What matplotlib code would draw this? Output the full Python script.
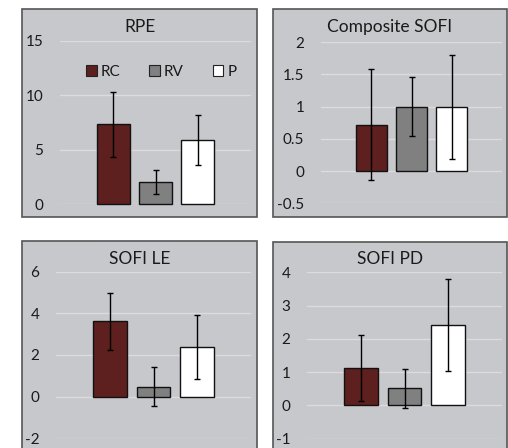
import matplotlib.pyplot as plt
from matplotlib.patches import Rectangle, Patch
import numpy as np

plt.rcParams['font.family'] = ['Lato', 'DejaVu Sans']

groups = ["RC", "RV", "P"]
colors = ["#5e1f1f", "#808080", "#ffffff"]

titles = ["RPE", "Composite SOFI", "SOFI LE", "SOFI PD"]
means = [
    [7.35, 2.0, 5.9],
    [0.72, 1.0, 1.0],
    [3.62, 0.48, 2.39],
    [1.13, 0.51, 2.41],
]
errs = [
    [3.0, 1.1, 2.3],
    [0.86, 0.46, 0.81],
    [1.38, 0.92, 1.54],
    [1.0, 0.59, 1.38],
]
yticks = [
    [0, 5, 10, 15],
    [-0.5, 0, 0.5, 1, 1.5, 2],
    [-2, 0, 2, 4, 6],
    [-1, 0, 1, 2, 3, 4],
]
ytlabels = [
    ["0", "5", "10", "15"],
    ["-0.5", "0", "0.5", "1", "1.5", "2"],
    ["-2", "0", "2", "4", "6"],
    ["-1", "0", "1", "2", "3", "4"],
]

W, H = 508, 448
bg = "#c7c8cc"
txt = "#1a1a1a"

# panel boxes and plot areas in pixels (left, top, right, bottom)
panels = [(22, 9, 257, 217), (273, 9, 507, 217), (22, 241, 257, 455), (273, 242, 507, 455)]
areas = [(60, 41, 251, 204), (321, 42.3, 502, 203.3), (56, 271.7, 251, 438.3), (307, 272.3, 502, 438.7)]

fig = plt.figure(figsize=(W / 100, H / 100), dpi=100)

def frac(l, t, r, b):
    return [l / W, 1 - b / H, (r - l) / W, (b - t) / H]

for i in range(4):
    l, t, r, b = panels[i]
    fig.patches.append(Rectangle((l / W, 1 - b / H), (r - l) / W, (b - t) / H,
                                 transform=fig.transFigure, facecolor=bg,
                                 edgecolor="#555555", linewidth=1.2, zorder=-1))
    fig.text((l + r) / 2 / W, 1 - (27 if i < 2 else 259) / H, titles[i],
             ha="center", va="center", fontsize=12.5, color=txt)

    ax = fig.add_axes(frac(*areas[i]))
    ax.set_zorder(1)
    ax.set_facecolor("none")
    x = np.arange(3) - 1
    ax.bar(x, means[i], width=0.78, color=colors, edgecolor="#111111", linewidth=1,
           zorder=2, clip_on=False)
    ax.errorbar(x, means[i], yerr=errs[i], fmt="none", ecolor="black",
                elinewidth=1, capsize=2.5, capthick=1, zorder=3)
    ax.set_xlim(-2.25, 2.25)
    ax.set_ylim(yticks[i][0], yticks[i][-1])
    ax.set_yticks(yticks[i])
    ax.set_yticklabels(ytlabels[i])
    ax.set_xticks([])
    ax.tick_params(axis="y", length=0, pad=12, labelsize=11, labelcolor=txt)
    ax.grid(axis="y", color="#dcdcdc", linewidth=1)
    ax.set_axisbelow(True)
    for s in ax.spines.values():
        s.set_visible(False)
    if i == 0:
        handles = [Patch(facecolor=c, edgecolor="#222222", linewidth=0.8) for c in colors]
        ax.legend(handles, groups, loc="center", bbox_to_anchor=(0.53, 0.81), ncol=3,
                  frameon=False, fontsize=11, handlelength=0.7, handleheight=0.7,
                  handletextpad=0.25, columnspacing=1.9, labelcolor=txt)

fig.savefig("out.png", dpi=100, facecolor="white")
